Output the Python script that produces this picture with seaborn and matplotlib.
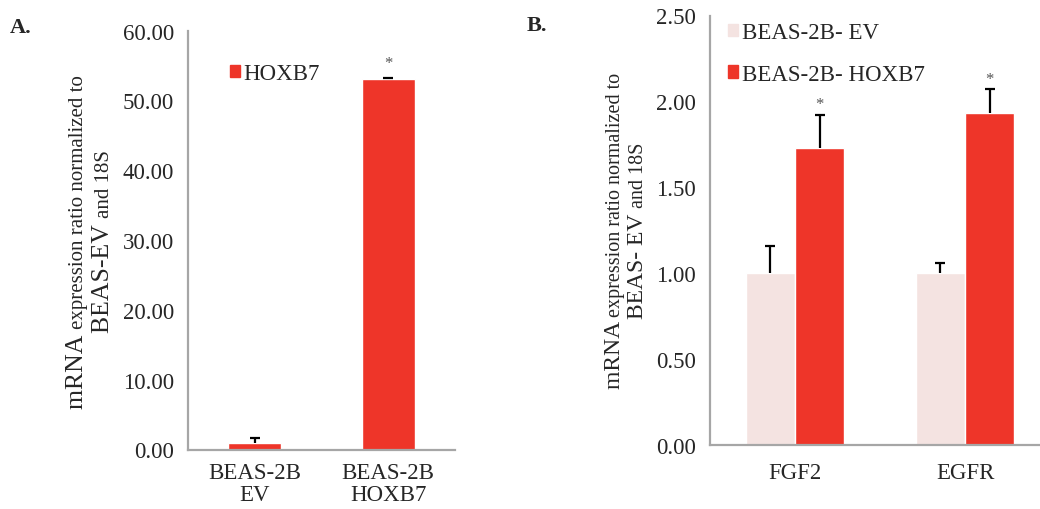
import matplotlib
matplotlib.use("Agg")
import matplotlib.pyplot as plt
import matplotlib.patches as mpatches
import seaborn as sns
import pandas as pd

# Panel A: HOXB7 expression in the two cell lines
a_groups = ["BEAS-2B\nEV", "BEAS-2B\nHOXB7"]
a_values = [1.00, 53.05]
a_errors = [0.60, 0.15]
a_yticks = [0, 10, 20, 30, 40, 50, 60]

# Panel B: FGF2 / EGFR expression
b_genes = ["FGF2", "EGFR"]
b_lines = ["BEAS-2B- EV", "BEAS-2B- HOXB7"]
b_ev = [1.00, 1.00]
b_ev_err = [0.16, 0.06]
b_hoxb7 = [1.73, 1.93]
b_hoxb7_err = [0.19, 0.14]
b_yticks = [0.0, 0.5, 1.0, 1.5, 2.0, 2.5]

RED = "#EE3529"
PINK = "#F4E3E1"
AXIS_GRAY = "#A6A6A6"
FS = 16.5

sns.set_style("white")
plt.rcParams["font.family"] = ["Liberation Serif", "DejaVu Serif"]

W, H = 1040, 510
fig = plt.figure(figsize=(W / 100, H / 100), dpi=100)


def px_axes(left, right, top, bottom):
    return fig.add_axes([left / W, 1 - bottom / H, (right - left) / W, (bottom - top) / H])


def style_axes(ax, ticks, fmt, xpad):
    for side in ("top", "right"):
        ax.spines[side].set_visible(False)
    for side in ("left", "bottom"):
        ax.spines[side].set_color(AXIS_GRAY)
        ax.spines[side].set_linewidth(1.6)
    ax.set_yticks(ticks)
    ax.set_yticklabels([fmt.format(t) for t in ticks], fontsize=FS)
    ax.tick_params(axis="y", length=6, width=1.2, color=AXIS_GRAY, direction="out", pad=4)
    ax.tick_params(axis="x", length=0, labelsize=FS, pad=xpad)
    ax.set_xlabel("")
    ax.set_ylabel("")


def add_errorbars(ax, xs, tops, errs):
    _, caps, _ = ax.errorbar(xs, tops, yerr=[[0] * len(errs), errs], fmt="none",
                             ecolor="black", elinewidth=1.6, capsize=3.8,
                             capthick=1.6, zorder=3)
    # only the upper whisker carries a cap
    caps[0].set_visible(False)


def add_stars(ax, xs, tops, offset=4):
    for x, t in zip(xs, tops):
        ax.annotate("*", (x, t), xytext=(0, offset), textcoords="offset points",
                    ha="center", va="bottom", fontsize=12, color="#555555")


def stacked_label(pieces, baseline_x, center_y):
    """Rotated multi-size text line, read bottom to top, centred on center_y (pixels)."""
    renderer = fig.canvas.get_renderer()
    texts = []
    for s, size in pieces:
        t = fig.text(0, 0, s, fontsize=size, rotation=90, rotation_mode="anchor",
                     ha="left", va="baseline", transform=None)
        texts.append(t)
    lengths = [t.get_window_extent(renderer).height for t in texts]
    y = center_y - sum(lengths) / 2
    for t, L in zip(texts, lengths):
        t.set_position((baseline_x, y))
        y += L


# ---- Panel A ----
axA = px_axes(188, 455, 31.7, 450.5)
dfA = pd.DataFrame({"group": a_groups, "value": a_values})
sns.barplot(data=dfA, x="group", y="value", color=RED, saturation=1, width=0.4,
            errorbar=None, ax=axA)
axA.set_ylim(0, 60)
axA.set_xlim(-0.5, 1.5)
style_axes(axA, a_yticks, "{:.2f}", xpad=9)
for lbl in axA.get_xticklabels():
    lbl.set_linespacing(1.05)
barsA = axA.containers[0]
xsA = [p.get_x() + p.get_width() / 2 for p in barsA]
add_errorbars(axA, xsA, a_values, a_errors)
add_stars(axA, xsA[1:], [a_values[1] + a_errors[1]], offset=5)
axA.legend(handles=[mpatches.Patch(color=RED, label="HOXB7")], loc="upper left",
           bbox_to_anchor=((230 - 188) / 267, 1 - (64 - 31.7) / 418.8), frameon=False,
           fontsize=FS, handlelength=0.45, handleheight=0.45, handletextpad=0.15,
           borderpad=0, borderaxespad=0)

# ---- Panel B ----
axB = px_axes(710, 1040, 16.5, 446)
dfB = pd.DataFrame({
    "gene": b_genes * 2,
    "line": [b_lines[0]] * 2 + [b_lines[1]] * 2,
    "value": b_ev + b_hoxb7,
})
sns.barplot(data=dfB, x="gene", y="value", hue="line", hue_order=b_lines,
            palette=[PINK, RED], saturation=1, width=0.58, errorbar=None,
            legend=False, ax=axB)
axB.set_ylim(0, 2.5)
axB.set_xlim(-0.5, 1.44)
style_axes(axB, b_yticks, "{:.2f}", xpad=12)
for bars, vals, errs, star in zip(axB.containers, [b_ev, b_hoxb7],
                                  [b_ev_err, b_hoxb7_err], [False, True]):
    xs = [p.get_x() + p.get_width() / 2 for p in bars]
    add_errorbars(axB, xs, vals, errs)
    if star:
        add_stars(axB, xs, [v + e for v, e in zip(vals, errs)], offset=2)
axB.legend(handles=[mpatches.Patch(color=PINK, label=b_lines[0]),
                    mpatches.Patch(color=RED, label=b_lines[1])],
           loc="upper left", bbox_to_anchor=((728 - 710) / 330, 1 - (23 - 16.5) / 429.5),
           frameon=False, fontsize=FS, handlelength=0.45, handleheight=0.45,
           handletextpad=0.15, labelspacing=0.9, borderpad=0, borderaxespad=0)

# ---- panel letters ----
fig.text(10 / W, 1 - 28 / H, "A.", fontsize=16, fontweight="bold", va="center")
fig.text(527 / W, 1 - 26 / H, "B.", fontsize=16, fontweight="bold", va="center")

# ---- y-axis titles with mixed type sizes ----
fig.canvas.draw()
stacked_label([("mRNA ", 18.5), ("expression ratio normalized to", 15)], 83, H - 242)
stacked_label([("BEAS-EV ", 18.5), ("and 18S", 15)], 109, H - 242)
stacked_label([("mRNA ", 17), ("expression ratio normalized to", 14.5)], 620, H - 231)
stacked_label([("BEAS- EV ", 17), ("and 18S", 14.5)], 643, H - 231)

fig.savefig("out.png", dpi=100)
